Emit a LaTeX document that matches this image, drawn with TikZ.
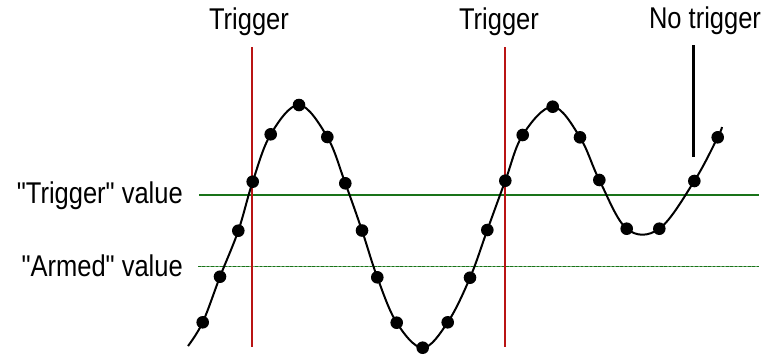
\documentclass[tikz,border=0pt]{standalone}
\usepackage{fontspec}
\newfontfamily\lblfont[FakeStretch=0.85]{Liberation Sans}
\definecolor{trigred}{RGB}{185,20,20}
\definecolor{lvlgreen}{RGB}{25,115,25}
\definecolor{lvlgreenlight}{RGB}{110,170,110}
\begin{document}
\begin{tikzpicture}[x=1pt,y=-1pt,
  lbl/.style={font=\lblfont\fontsize{30}{33}\selectfont, inner sep=0pt},
  redline/.style={draw=trigred, line width=1.5pt},
  trigline/.style={draw=lvlgreen, line width=1.4pt},
  armline/.style={draw=lvlgreen, line width=1.4pt, dash pattern=on 2.6pt off 1.8pt},
  armbase/.style={draw=lvlgreenlight, line width=1.4pt},
  wave/.style={draw=black, line width=2pt},
  sample/.style={fill=black},
  marker/.style={draw=black, line width=3.3pt}]
\useasboundingbox (0,0) rectangle (768,354);
% labels
\node[lbl, anchor=base] (t1) at (249,29.3) {Trigger};
\node[lbl, anchor=base] (t2) at (499,29.3) {Trigger};
\node[lbl, anchor=base] (t3) at (705,28.5) {No trigger};
\node[lbl, anchor=base east] (tv) at (183,203.3) {"Trigger" value};
\node[lbl, anchor=base east] (av) at (183,276.3) {"Armed" value};
% level lines
\coordinate (tvL) at (199,195);
\coordinate (tvR) at (759,195);
\coordinate (avL) at (198,266.5);
\coordinate (avR) at (759,266.5);
\draw[trigline] (tvL) -- (tvR);
\draw[armbase] (avL) -- (avR);
\draw[armline] (avL) -- (avR);
% trigger lines
\coordinate (r1T) at (252,47);
\coordinate (r1B) at (252,347);
\coordinate (r2T) at (505,47);
\coordinate (r2B) at (505,347);
\draw[redline] (r1T) -- (r1B);
\draw[redline] (r2T) -- (r2B);
% no-trigger marker
\coordinate (mT) at (693.3,45);
\coordinate (mB) at (693.3,157);
\draw[marker] (mT) -- (mB);
% samples
\coordinate (s0) at (188,346);
\coordinate (d1) at (202.7,322.3);
\coordinate (d2) at (220,276.7);
\coordinate (d3) at (238.3,230.7);
\coordinate (d4) at (252.7,181.7);
\coordinate (d5) at (270.7,134.3);
\coordinate (d6) at (299,105);
\coordinate (d7) at (327.3,137);
\coordinate (d8) at (345.3,183.3);
\coordinate (d9) at (362,230.5);
\coordinate (d10) at (377.3,277.3);
\coordinate (d11) at (396.7,322.7);
\coordinate (d12) at (422.7,347.7);
\coordinate (d13) at (447.7,322.3);
\coordinate (d14) at (470,277.7);
\coordinate (d15) at (487.3,230);
\coordinate (d16) at (505.3,180.7);
\coordinate (d17) at (522.7,135);
\coordinate (d18) at (552.7,106.7);
\coordinate (d19) at (580,137.3);
\coordinate (d20) at (599.3,180);
\coordinate (d21) at (626.7,228.7);
\coordinate (d22) at (659.3,228.7);
\coordinate (d23) at (694.3,181);
\coordinate (d24) at (717.7,137.3);
\coordinate (s1) at (722,127);
\draw[wave] plot[smooth, tension=0.6] coordinates {(s0) (d1) (d2) (d3) (d4) (d5) (d6) (d7) (d8) (d9) (d10) (d11) (d12) (d13) (d14) (d15) (d16) (d17) (d18) (d19) (d20) (d21) (d22) (d23) (d24) (s1)};
\foreach \i in {1,...,24} {\fill[sample] (d\i) circle (6.3);}
\end{tikzpicture}
\end{document}
